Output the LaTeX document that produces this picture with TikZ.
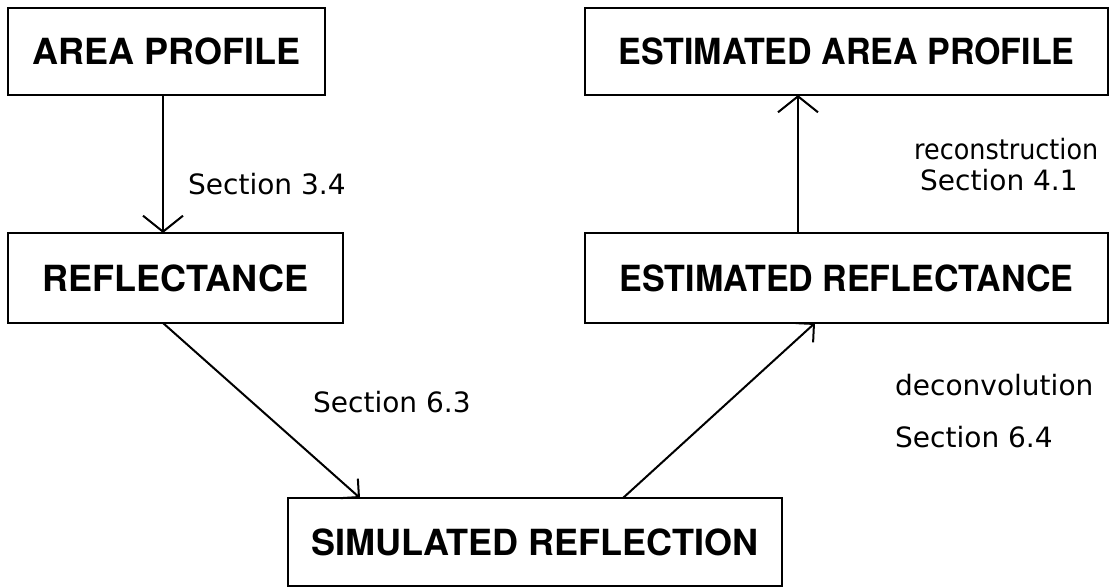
\documentclass[tikz,border=0pt]{standalone}
\usepackage{fontspec}
\usetikzlibrary{arrows.meta}
\newfontfamily\boxfont{TeX Gyre Heros}
\newfontfamily\boxfontn[FakeStretch=0.945]{TeX Gyre Heros}
\newfontfamily\notefont{DejaVu Sans}
\newfontfamily\notefontn[FakeStretch=0.91]{DejaVu Sans}
\begin{document}
\begin{tikzpicture}[x=1pt,y=-1pt,
  box/.style={draw, line width=2pt, inner sep=0pt, outer sep=0pt,
    anchor=north west, font=\boxfont\bfseries\fontsize{36}{40}\selectfont},
  widebox/.style={box, font=\boxfontn\bfseries\fontsize{36}{40}\selectfont},
  note/.style={anchor=base west, inner sep=0pt, font=\notefont\fontsize{28}{32}\selectfont},
  narrownote/.style={note, font=\notefontn\fontsize{28}{32}\selectfont},
  bigarrow/.style={line width=2pt, -{Straight Barb[length=16pt,width=40pt,line width=2pt]}},
  smallarrow/.style={line width=2pt, -{Straight Barb[length=13pt,width=26pt,line width=2pt]}}]
\useasboundingbox (0,0) rectangle (1112,588);

% boxes
\node[box, minimum width=317pt, minimum height=87pt] (area) at (8,8) {AREA PROFILE};
\node[box, minimum width=335pt, minimum height=90pt] (refl) at (8,233) {REFLECTANCE};
\node[box, minimum width=494pt, minimum height=88pt] (sim) at (288,498) {SIMULATED REFLECTION};
\node[widebox, minimum width=523pt, minimum height=90pt] (erefl) at (585,233) {ESTIMATED REFLECTANCE};
\node[widebox, minimum width=523pt, minimum height=87pt] (earea) at (585,8) {ESTIMATED AREA PROFILE};

% connector positions along the box edges
\coordinate (c1) at (163,0);
\coordinate (c2) at (360,0);
\coordinate (c3) at (623,0);
\coordinate (c4) at (815,0);
\coordinate (c5) at (798,0);

% connectors
\draw[bigarrow] (area.south -| c1) -- (refl.north -| c1);
\draw[smallarrow] (refl.south -| c1) -- (sim.north -| c2);
\draw[smallarrow] (sim.north -| c3) -- (erefl.south -| c4);
\draw[bigarrow] (erefl.north -| c5) -- (earea.south -| c5);

% annotations
\node[note] (n1) at (188,195) {Section 3.4};
\node[note] (n2) at (313,412) {Section 6.3};
\node[narrownote] (n3) at (914,160) {reconstruction};
\node[note] (n4) at (920,191) {Section 4.1};
\node[note] (n5) at (895,395) {deconvolution};
\node[note] (n6) at (895,447) {Section 6.4};
\end{tikzpicture}
\end{document}
